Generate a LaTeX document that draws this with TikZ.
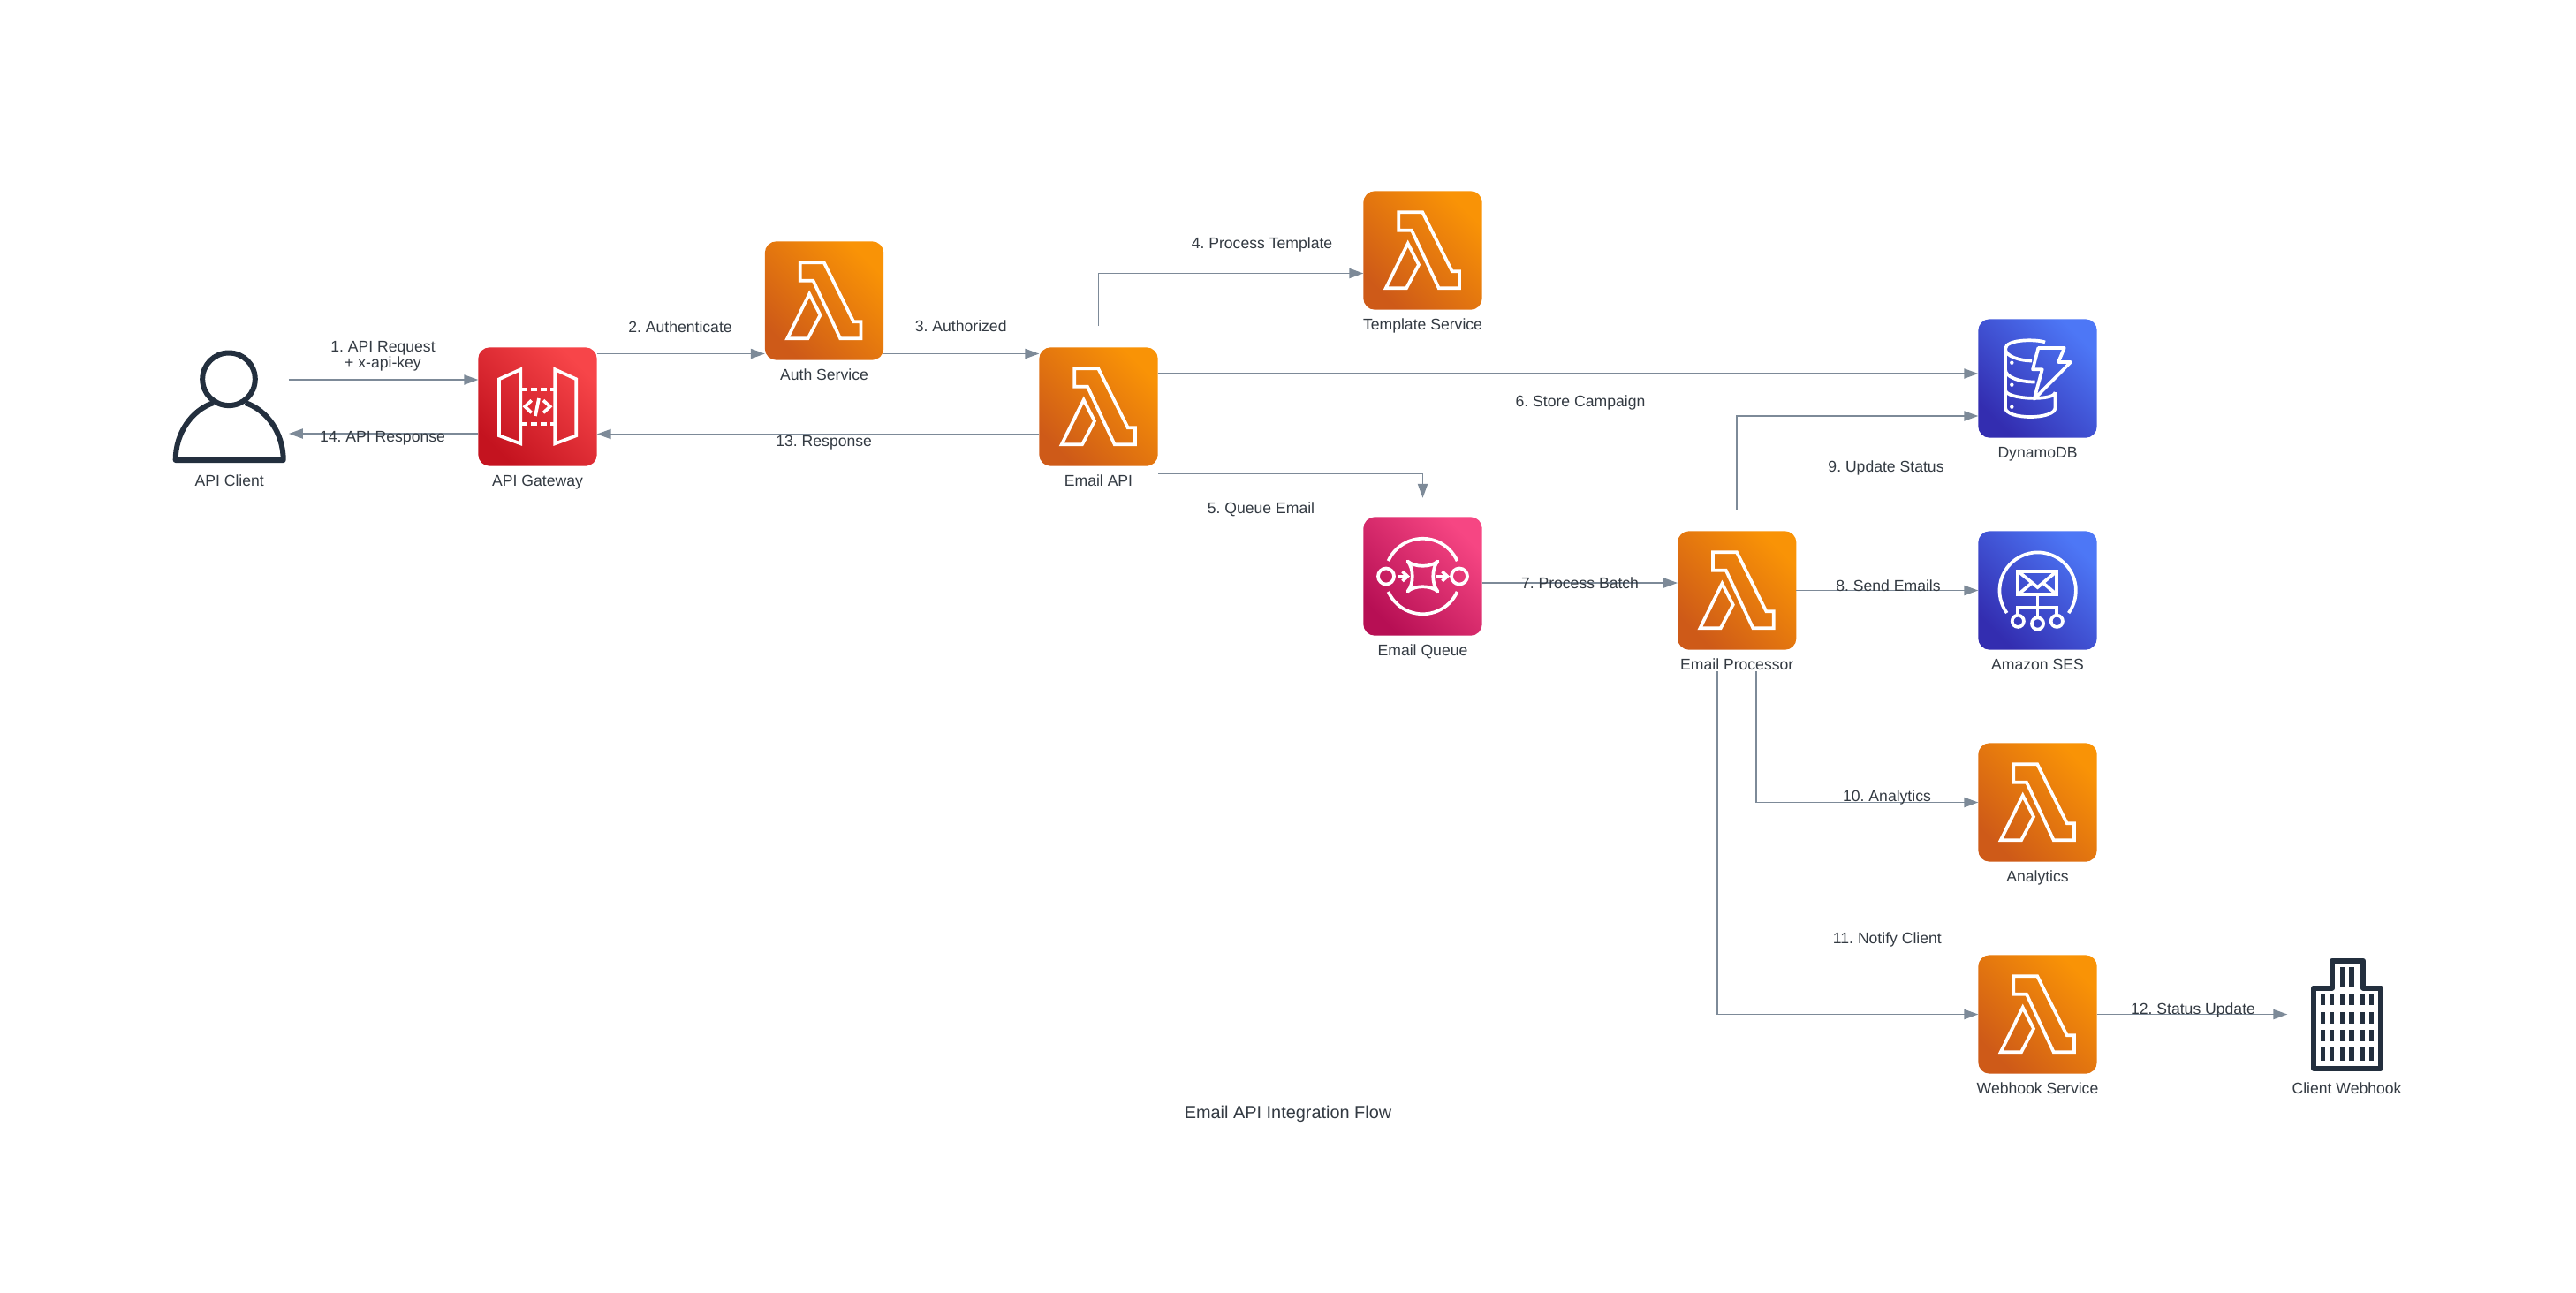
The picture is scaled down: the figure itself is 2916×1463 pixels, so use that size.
\documentclass[tikz,border=0pt]{standalone}
\usepackage{fontspec}
\setmainfont{Liberation Sans}
\usetikzlibrary{arrows.meta}
\definecolor{ink}{HTML}{232F3E}
\definecolor{txtgrey}{HTML}{333A42}
\definecolor{linegrey}{HTML}{7D8A98}
\definecolor{lambdalo}{HTML}{CE5A18}
\definecolor{lambdahi}{HTML}{F99306}
\definecolor{gatewaylo}{HTML}{C4131F}
\definecolor{gatewayhi}{HTML}{F74549}
\definecolor{queuelo}{HTML}{B70F54}
\definecolor{queuehi}{HTML}{F64683}
\definecolor{datalo}{HTML}{332DB0}
\definecolor{datahi}{HTML}{4D77F6}
\newcommand{\labelfont}{\fontsize{8.8}{9.15}\selectfont\frenchspacing}
\tikzstyle{box}=[rectangle, minimum size=67.2pt, inner sep=0pt, outer sep=0pt]
\tikzstyle{lambdabox}=[box, rounded corners=6.5pt, bottom color=lambdalo, top color=lambdahi, shading angle=-45]
\tikzstyle{gatewaybox}=[box, rounded corners=6.5pt, bottom color=gatewaylo, top color=gatewayhi, shading angle=-45]
\tikzstyle{queuebox}=[box, rounded corners=6.5pt, bottom color=queuelo, top color=queuehi, shading angle=-45]
\tikzstyle{databox}=[box, rounded corners=6.5pt, bottom color=datalo, top color=datahi, shading angle=-45]
\tikzstyle{glyph}=[draw=white, line width=1.85pt, line join=miter]
\tikzstyle{darkglyph}=[draw=ink, line width=3pt, line join=round]
\tikzstyle{flow}=[draw=linegrey, line width=0.75pt, -{Triangle[length=8pt,width=5.6pt]}]
\tikzstyle{txt}=[inner sep=0pt, text=txtgrey, font=\labelfont, text height=6pt, text depth=2pt]
\tikzstyle{twolines}=[inner sep=0pt, text=txtgrey, font=\labelfont, align=center]
\tikzstyle{heading}=[inner sep=0pt, text=txtgrey, font=\fontsize{9.95}{12}\selectfont\frenchspacing]

\newcommand{\lambdaglyph}[1]{
	\begin{scope}[shift={(#1.center)}]
		\draw[glyph] (-27.2,-43.2) -- (-0.2,-43.2) -- (33.2,23.8) -- (41.5,23.8) -- (41.5,42.8) -- (18.2,42.8) -- (-12.5,-22.8) -- (-27.2,-22.8) -- cycle;
		\draw[glyph] (-16.8,-7.8) -- (-4.5,16.2) -- (-18.5,42.8) -- (-41.8,42.8) -- cycle;
	\end{scope}
}
\newcommand{\gatewayglyph}[1]{
	\begin{scope}[shift={(#1.center)}]
		\draw[glyph] (-19.2,-42.2) -- (-43.5,-31.2) -- (-43.5,32.8) -- (-19.2,41.8) -- cycle;
		\draw[glyph] (19.8,-42.2) -- (43.8,-31.2) -- (43.8,32.8) -- (19.8,41.8) -- cycle;
		\draw[glyph, dash pattern=on 3.3pt off 2.1pt] (-18,-19.8) -- (18,-19.8);
		\draw[glyph, dash pattern=on 3.3pt off 2.1pt] (-18,19.5) -- (18,19.5);
		\draw[glyph] (-6.8,-7.2) -- (-14.2,-0.2) -- (-6.8,6.8);
		\draw[glyph] (6.5,-7.2) -- (14.2,-0.2) -- (6.5,6.8);
		\draw[glyph] (1.5,-9.5) -- (-2.5,10.5);
	\end{scope}
}
\newcommand{\queueglyph}[1]{
	\begin{scope}[shift={(#1.center)}]
		\draw[glyph] (-39,-17.4) arc[start angle=156, end angle=24, radius=21.35pt];
		\draw[glyph] (-39,17.4) arc[start angle=204, end angle=336, radius=21.35pt];
		\draw[glyph] (-41.5,0) circle[radius=4.5pt];
		\draw[glyph] (41.5,0) circle[radius=4.5pt];
		\draw[glyph, line join=round] (-17,-17) .. controls (-9,-10) and (9,-10) .. (17,-17) .. controls (10,-9) and (10,9) .. (17,17) .. controls (9,10) and (-9,10) .. (-17,17) .. controls (-10,9) and (-10,-9) .. (-17,-17) -- cycle;
		\draw[glyph] (-28.2,0) -- (-17,0);
		\draw[glyph] (-23,-5.4) -- (-17.2,0) -- (-23,5.4);
		\draw[glyph] (15.5,0) -- (27.6,0);
		\draw[glyph] (22,-5.4) -- (27.8,0) -- (22,5.4);
	\end{scope}
}
\newcommand{\dataglyph}[1]{
	\begin{scope}[shift={(#1.center)}]
		\draw[glyph, line join=round] (8.5,-41) .. controls (0,-44.5) and (-36.5,-45) .. (-36.5,-33.5) .. controls (-36.5,-25) and (-20,-20) .. (-6.5,-20);
		\draw[glyph] (-36.5,-33.5) -- (-36.5,33) .. controls (-36.5,47) and (20,47) .. (20,33) -- (20,15.5);
		\draw[glyph] (-36.5,-10) .. controls (-36.5,-2) and (-22,4) .. (-3,4);
		\draw[glyph] (-36.5,13) .. controls (-36.5,24) and (20,26) .. (20,15.5);
		\fill[white] (-29.2,-17.8) circle[radius=1.1pt];
		\fill[white] (-29.2,7.2) circle[radius=1.1pt];
		\fill[white] (-29.2,32.2) circle[radius=1.1pt];
		\draw[glyph, line join=round] (0.8,-34.5) -- (30.2,-34.5) -- (23.5,-18.5) -- (37.5,-18.5) -- (-3.8,23.2) -- (5.2,-10.2) -- (-5.5,-10.2) -- cycle;
	\end{scope}
}
\newcommand{\sesglyph}[1]{
	\begin{scope}[shift={(#1.center)}]
		\draw[glyph] (-34.8,25.5) arc[start angle=216, end angle=-36, radius=21.6pt];
		\draw[glyph] (-22.2,-21.8) rectangle (21.8,4.8);
		\draw[glyph] (-22.2,-21.8) -- (0,-3.5) -- (21.8,-21.8);
		\draw[glyph] (-22.2,4.8) -- (-6.5,-8.5);
		\draw[glyph] (21.8,4.8) -- (6.2,-8.5);
		\draw[glyph] (0,4.8) -- (0,31);
		\draw[glyph] (-22.2,28.3) -- (-22.2,19.8) -- (21.8,19.8) -- (21.8,28.3);
		\draw[glyph] (-22.2,34.8) circle[radius=3.3pt];
		\draw[glyph] (0,37.5) circle[radius=3.3pt];
		\draw[glyph] (21.8,34.8) circle[radius=3.3pt];
	\end{scope}
}
\newcommand{\personglyph}[1]{
	\begin{scope}[shift={(#1.center)}]
		\draw[darkglyph] (-0.7,-31.2) circle[radius=14.9pt];
		\draw[darkglyph] (-18,-4.5) .. controls (-43,4) and (-61,30) .. (-61,60.5) -- (61,60.5) .. controls (61,30) and (43,4) .. (18,-4.5);
	\end{scope}
}
\newcommand{\buildingglyph}[1]{
	\begin{scope}[shift={(#1.center)}]
		\draw[darkglyph] (-37.5,61) -- (-37.5,-30) -- (-16.5,-30) -- (-16.5,-60.7) -- (18.5,-60.7) -- (18.5,-30) -- (38.5,-30) -- (38.5,61) -- cycle;
		\foreach \wx in {-7.2,2.8}
			\fill[ink] (\wx,-53.2) rectangle (\wx+5.3,-30.2);
		\foreach \wx in {-29.8,-19.8,-7.2,2.8,15.5,25.5} {
			\fill[ink] (\wx,-22.8) rectangle (\wx+5.3,-10.2);
			\fill[ink] (\wx,-2.5) rectangle (\wx+5.3,10.2);
			\fill[ink] (\wx,17.5) rectangle (\wx+5.3,30.2);
			\fill[ink] (\wx,37.5) rectangle (\wx+5.3,52.8);
		}
	\end{scope}
}

\begin{document}
\begin{tikzpicture}[x=0.5pt, y=-0.5pt]
	\useasboundingbox (0,0) rectangle (2916,1463);

	%The services
	\draw (259.7,460.5) node[box] (client) {};
	\draw (608.5,460.5) node[gatewaybox] (gateway) {};
	\draw (933,340.5) node[lambdabox] (auth) {};
	\draw (1243.5,460.5) node[lambdabox] (emailapi) {};
	\draw (1610.5,283.5) node[lambdabox] (template) {};
	\draw (1610.5,652.5) node[queuebox] (queue) {};
	\draw (1966.2,668.5) node[lambdabox] (processor) {};
	\draw (2306.5,428.5) node[databox] (dynamo) {};
	\draw (2306.5,668.5) node[databox] (ses) {};
	\draw (2306.5,908.5) node[lambdabox] (analytics) {};
	\draw (2306.5,1148.5) node[lambdabox] (webhook) {};
	\draw (2656.5,1148.5) node[box] (clienthook) {};

	%The glyphs
	\personglyph{client}
	\gatewayglyph{gateway}
	\lambdaglyph{auth}
	\lambdaglyph{emailapi}
	\lambdaglyph{template}
	\queueglyph{queue}
	\lambdaglyph{processor}
	\dataglyph{dynamo}
	\sesglyph{ses}
	\lambdaglyph{analytics}
	\lambdaglyph{webhook}
	\buildingglyph{clienthook}

	%The connectors
	\draw[flow] ([yshift=15.25pt]client.east) -- ([yshift=15.25pt]gateway.west);
	\draw[flow] ([yshift=30pt]gateway.east) -- ([yshift=-30pt]auth.west);
	\draw[flow] ([yshift=-30pt]auth.east) -- ([yshift=30pt]emailapi.west);
	\draw[flow] ([yshift=12.15pt]emailapi.north) |- ([yshift=-13pt]template.west);
	\draw[flow] ([yshift=-37.75pt]emailapi.east) -| ([yshift=10.75pt]queue.north);
	\draw[flow] ([yshift=18.75pt]emailapi.east) -- ([yshift=2.75pt]dynamo.west);
	\draw[flow] ([yshift=-3.75pt]queue.east) -- ([yshift=4.25pt]processor.west);
	\draw[flow] (processor.east) -- (ses.west);
	\draw[flow] ([yshift=12.15pt]processor.north) |- ([yshift=-21.25pt]dynamo.west);
	\draw[flow] ([xshift=11pt,yshift=-12.15pt]processor.south) |- (analytics.west);
	\draw[flow] ([xshift=-11pt,yshift=-12.15pt]processor.south) |- (webhook.west);
	\draw[flow] (webhook.east) -- (clienthook.west);
	\draw[flow] ([yshift=-15.5pt]emailapi.west) -- ([yshift=-15.5pt]gateway.east);
	\draw[flow] ([yshift=-15.25pt]gateway.west) -- ([yshift=-15.25pt]client.east);

	%The service names
	\draw (259.7,546) node[txt] (clientname) {API Client};
	\draw (608.5,546) node[txt] (gatewayname) {API Gateway};
	\draw (933,426) node[txt] (authname) {Auth Service};
	\draw (1243.5,546) node[txt] (emailapiname) {Email API};
	\draw (1610.5,369) node[txt] (templatename) {Template Service};
	\draw (1610.5,738) node[txt] (queuename) {Email Queue};
	\draw (1966.2,754) node[txt] (processorname) {Email Processor};
	\draw (2306.5,514) node[txt] (dynamoname) {DynamoDB};
	\draw (2306.5,754) node[txt] (sesname) {Amazon SES};
	\draw (2306.5,994) node[txt] (analyticsname) {Analytics};
	\draw (2306.5,1234) node[txt] (webhookname) {Webhook Service};
	\draw (2656.5,1234) node[txt] (clienthookname) {Client Webhook};

	%The connector labels
	\draw (433.5,403.5) node[twolines] (step1) {1. API Request\\+ x-api-key};
	\draw (770,372) node[txt] (step2) {2. Authenticate};
	\draw (1087.7,371.5) node[txt] (step3) {3. Authorized};
	\draw (1428.5,277) node[txt] (step4) {4. Process Template};
	\draw (1427.5,577.5) node[txt] (step5) {5. Queue Email};
	\draw (1789,456) node[txt] (step6) {6. Store Campaign};
	\draw (1788.5,662.5) node[txt] (step7) {7. Process Batch};
	\draw (2137.5,665) node[txt] (step8) {8. Send Emails};
	\draw (2135,530.5) node[txt] (step9) {9. Update Status};
	\draw (2136,903) node[txt] (step10) {10. Analytics};
	\draw (2136.4,1064) node[txt] (step11) {11. Notify Client};
	\draw (2482.5,1144) node[txt] (step12) {12. Status Update};
	\draw (932.7,501.3) node[txt] (step13) {13. Response};
	\draw (433,496) node[txt] (step14) {14. API Response};

	%The title
	\draw (1458,1261) node[heading] (title) {Email API Integration Flow};
\end{tikzpicture}
\end{document}
